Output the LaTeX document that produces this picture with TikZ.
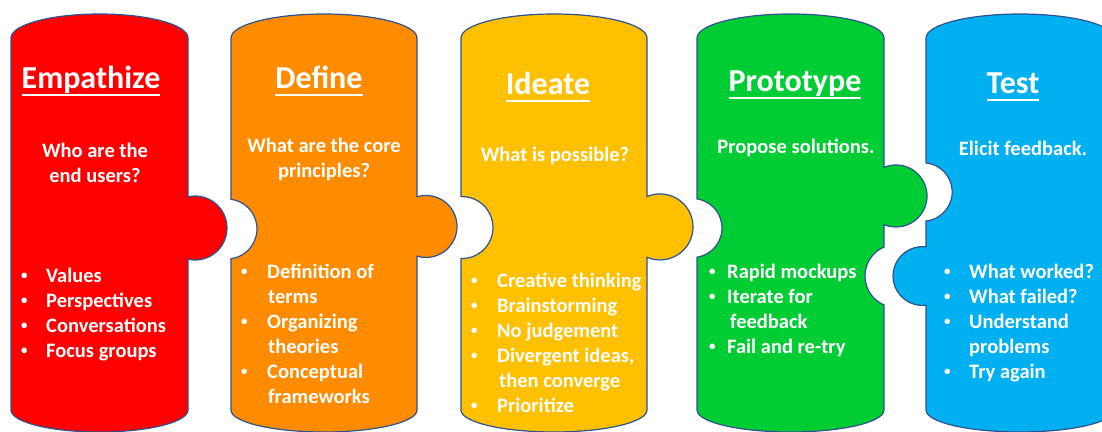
\documentclass[tikz,border=0pt]{standalone}
\usepackage{fontspec}
\setmainfont{Carlito}
\definecolor{empred}{HTML}{FF0000}
\definecolor{deforange}{HTML}{FF8C00}
\definecolor{ideyellow}{HTML}{FFC000}
\definecolor{progreen}{HTML}{00CC33}
\definecolor{tesblue}{HTML}{00B0F0}
\definecolor{rim}{HTML}{2F528F}
\newcommand{\bul}[1]{\makebox[#1][l]{\raisebox{2.5pt}{\fontsize{13}{13}\selectfont\textbullet}}}
\newcommand{\ttlul}[1]{\setbox0\hbox{#1}\rlap{\rule[-8pt]{\wd0}{2pt}}\box0}
\begin{document}
\begin{tikzpicture}[x=1pt, y=-1pt,
	piece/.style={draw=rim, line width=1.2pt},
	ttl/.style={text=white, inner sep=0pt, anchor=base,
		font=\fontsize{32}{38}\selectfont\bfseries},
	txt/.style={text=white, inner sep=0pt, anchor=base,
		font=\fontsize{20.5}{25}\selectfont\bfseries},
	bl/.style={txt, anchor=base west}]
	\useasboundingbox (0,0) rectangle (1102,431);
	\clip (0,0) rectangle (1102,431);

	% Puzzleteile
	\filldraw[piece, fill=empred] (11,38)
	arc[start angle=180, end angle=360, x radius=88.5, y radius=24]
	-- (188,196.8) arc[start angle=-102.6, end angle=102.6, radius=32]
	-- (188,410) arc[start angle=0, end angle=180, x radius=88.5, y radius=22]
	-- cycle;
	\filldraw[piece, fill=deforange] (231,38)
	arc[start angle=180, end angle=360, x radius=93, y radius=24]
	-- (417,196.8) arc[start angle=-106.9, end angle=106.9, radius=31]
	-- (417,410) arc[start angle=0, end angle=180, x radius=93, y radius=22]
	-- (231,258.7) arc[start angle=82.3, end angle=-82.3, radius=30]
	-- cycle;
	\filldraw[piece, fill=ideyellow] (461,38)
	arc[start angle=180, end angle=360, x radius=93, y radius=24]
	-- (647,196.6) arc[start angle=-113.2, end angle=113.2, radius=33]
	-- (647,410) arc[start angle=0, end angle=180, x radius=93, y radius=22]
	-- (461,258.5) arc[start angle=91.8, end angle=-91.8, radius=31]
	-- cycle;
	\filldraw[piece, fill=progreen] (697,38)
	arc[start angle=180, end angle=360, x radius=93.5, y radius=24]
	-- (884,167.4) arc[start angle=-112.8, end angle=112.8, radius=31]
	-- (884,247) arc[start angle=-113.5, end angle=-246.5, radius=31.6]
	-- (884,410) arc[start angle=0, end angle=180, x radius=93.5, y radius=22]
	-- (697,257.2) arc[start angle=81.2, end angle=-81.2, radius=29.5]
	-- cycle;
	\filldraw[piece, fill=tesblue] (926,38)
	arc[start angle=180, end angle=360, x radius=94, y radius=24]
	-- (1114,410) arc[start angle=0, end angle=180, x radius=94, y radius=22]
	-- (926,305.2) arc[start angle=83, end angle=277, radius=29.4]
	-- (926,221) arc[start angle=84.1, end angle=-84.1, radius=29.2]
	-- cycle;

	% Titel
	\node[ttl] (emp-t) at (91,88) {\ttlul{Empathize}};
	\node[ttl] (def-t) at (319,88) {\ttlul{Define}};
	\node[ttl] (ide-t) at (548,94) {\ttlul{Ideate}};
	\node[ttl] (pro-t) at (795,91) {\ttlul{Prototype}};
	\node[ttl] (tes-t) at (1013,93) {\ttlul{Test}};

	% Fragen
	\node[txt] (emp-q1) at (95,157) {Who are the};
	\node[txt] (emp-q2) at (95,182) {end users?};
	\node[txt] (def-q1) at (324,152) {What are the core};
	\node[txt] (def-q2) at (324,177) {principles?};
	\node[txt] (ide-q) at (555,161) {What is possible?};
	\node[txt] (pro-q) at (796,153) {Propose solutions.};
	\node[txt] (tes-q) at (1023,155) {Elicit feedback.};

	% Stichpunkte
	\node[bl] (emp-b1) at (21,282) {\bul{25pt}Values};
	\node[bl] (emp-b2) at (21,307) {\bul{25pt}Perspectives};
	\node[bl] (emp-b3) at (21,332) {\bul{25pt}Conversations};
	\node[bl] (emp-b4) at (21,357) {\bul{25pt}Focus groups};

	\node[bl] (def-b1) at (241,278) {\bul{26pt}Definition of};
	\node[bl] (def-b1a) at (268,303) {terms};
	\node[bl] (def-b2) at (241,328) {\bul{26pt}Organizing};
	\node[bl] (def-b2a) at (268,353) {theories};
	\node[bl] (def-b3) at (241,378) {\bul{26pt}Conceptual};
	\node[bl] (def-b3a) at (268,403) {frameworks};

	\node[bl] (ide-b1) at (471,287) {\bul{26pt}Creative thinking};
	\node[bl] (ide-b2) at (471,312) {\bul{26pt}Brainstorming};
	\node[bl] (ide-b3) at (471,337) {\bul{26pt}No judgement};
	\node[bl] (ide-b4) at (471,362) {\bul{26pt}Divergent ideas,};
	\node[bl] (ide-b4a) at (499,387) {then converge};
	\node[bl] (ide-b5) at (471,412) {\bul{26pt}Prioritize};

	\node[bl] (pro-b1) at (709,278) {\bul{18pt}Rapid mockups};
	\node[bl] (pro-b2) at (709,303) {\bul{18pt}Iterate for};
	\node[bl] (pro-b2a) at (730,328) {feedback};
	\node[bl] (pro-b3) at (709,353) {\bul{18pt}Fail and re-try};

	\node[bl] (tes-b1) at (944,278) {\bul{25pt}What worked?};
	\node[bl] (tes-b2) at (944,303) {\bul{25pt}What failed?};
	\node[bl] (tes-b3) at (944,328) {\bul{25pt}Understand};
	\node[bl] (tes-b3a) at (969,353) {problems};
	\node[bl] (tes-b4) at (944,378) {\bul{25pt}Try again};
\end{tikzpicture}
\end{document}
